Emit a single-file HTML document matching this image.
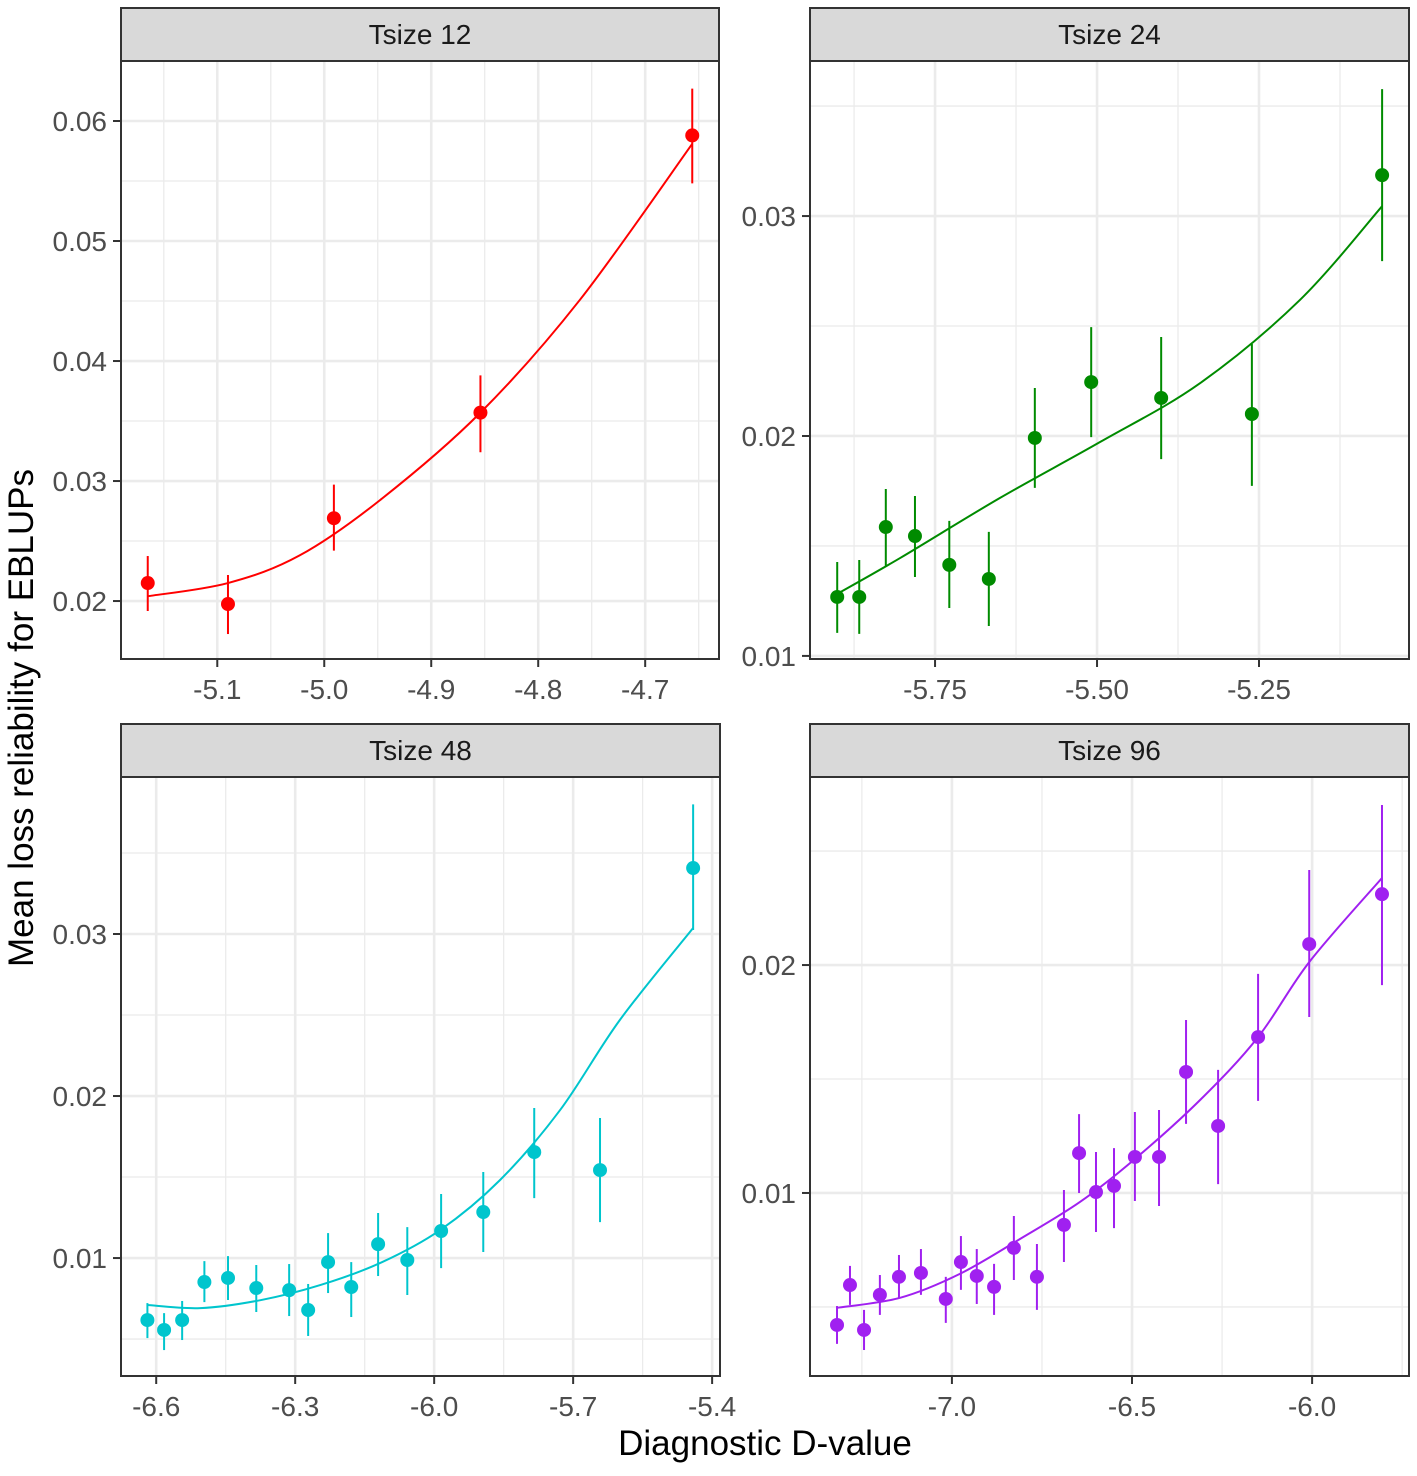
<!DOCTYPE html>
<html><head><meta charset="utf-8"><style>
body{margin:0;background:#fff;}
svg text{font-family:"Liberation Sans",sans-serif;}
</style></head><body>
<svg id="chart" width="1417" height="1471" viewBox="0 0 1417 1471" xmlns="http://www.w3.org/2000/svg">
<text transform="translate(33,718) rotate(-90)" text-anchor="middle" font-size="35" fill="#000">Mean loss reliability for EBLUPs</text>
<text x="765" y="1455" text-anchor="middle" font-size="35" fill="#000">Diagnostic D-value</text>
</svg>
<script>
// Panel titles
const panelTitles = ["Tsize 12","Tsize 24","Tsize 48","Tsize 96"];
// Tsize 12
const p1X = [-5.165,-5.090,-4.991,-4.854,-4.656];
const p1Y = [0.0215,0.01975,0.0269,0.0357,0.0588];
const p1Hi = [0.02375,0.02217,0.0297,0.0388,0.0627];
const p1Lo = [0.01917,0.01725,0.0242,0.0324,0.0548];
const p1FitX = [-5.165,-5.090,-5.023,-4.948,-4.854,-4.761,-4.656];
const p1FitY = [0.0204,0.0215,0.0238,0.0284,0.0357,0.0451,0.0581];
const p1XTicks = [-5.1,-5.0,-4.9,-4.8,-4.7];
const p1XLabels = ["-5.1","-5.0","-4.9","-4.8","-4.7"];
const p1YTicks = [0.02,0.03,0.04,0.05,0.06];
const p1YLabels = ["0.02","0.03","0.04","0.05","0.06"];
// Tsize 24
const p2X = [-5.901,-5.867,-5.826,-5.781,-5.728,-5.667,-5.596,-5.509,-5.401,-5.261,-5.060];
const p2Y = [0.01268,0.01268,0.01586,0.01545,0.01414,0.0135,0.01991,0.02245,0.02173,0.0210,0.03186];
const p2Hi = [0.01427,0.01436,0.01759,0.01727,0.01614,0.01564,0.02218,0.02495,0.0245,0.02418,0.03577];
const p2Lo = [0.01105,0.0110,0.01409,0.01359,0.01218,0.01136,0.01764,0.01995,0.01895,0.01773,0.02795];
const p2FitX = [-5.901,-5.804,-5.650,-5.495,-5.341,-5.187,-5.060];
const p2FitY = [0.01282,0.01445,0.01718,0.01973,0.0224,0.02618,0.03045];
const p2XTicks = [-5.75,-5.5,-5.25];
const p2XLabels = ["-5.75","-5.50","-5.25"];
const p2YTicks = [0.01,0.02,0.03];
const p2YLabels = ["0.01","0.02","0.03"];
// Tsize 48
const p3X = [-6.619,-6.583,-6.544,-6.496,-6.445,-6.384,-6.313,-6.272,-6.229,-6.179,-6.121,-6.058,-5.985,-5.894,-5.784,-5.642,-5.441];
const p3Y = [0.00617,0.00556,0.00617,0.00852,0.00877,0.00815,0.00802,0.00679,0.00975,0.00821,0.01086,0.00988,0.01167,0.01284,0.01654,0.01543,0.03407];
const p3Hi = [0.00722,0.0066,0.00735,0.00981,0.01012,0.00957,0.00963,0.0084,0.01154,0.00975,0.01278,0.01191,0.01395,0.01531,0.01926,0.01864,0.0380];
const p3Lo = [0.00506,0.00432,0.00494,0.00728,0.00741,0.00667,0.00642,0.00519,0.00784,0.00636,0.00889,0.00772,0.00938,0.01037,0.0137,0.01222,0.03025];
const p3FitX = [-6.619,-6.505,-6.375,-6.246,-6.117,-5.987,-5.858,-5.728,-5.599,-5.441];
const p3FitY = [0.0071,0.00691,0.0074,0.00833,0.00969,0.01173,0.01481,0.01914,0.0247,0.03037];
const p3XTicks = [-6.6,-6.3,-6.0,-5.7,-5.4];
const p3XLabels = ["-6.6","-6.3","-6.0","-5.7","-5.4"];
const p3YTicks = [0.01,0.02,0.03];
const p3YLabels = ["0.01","0.02","0.03"];
// Tsize 96
const p4X = [-7.319,-7.283,-7.244,-7.2,-7.147,-7.086,-7.017,-6.975,-6.931,-6.883,-6.828,-6.764,-6.689,-6.647,-6.6,-6.55,-6.492,-6.425,-6.35,-6.261,-6.15,-6.008,-5.806];
const p4Y = [0.00421,0.00596,0.00399,0.00553,0.00632,0.00649,0.00535,0.00697,0.00636,0.00588,0.00759,0.00632,0.0086,0.01175,0.01004,0.01031,0.01158,0.01158,0.01531,0.01294,0.01684,0.02092,0.02311];
const p4Hi = [0.00504,0.0068,0.00487,0.0064,0.00728,0.00754,0.00632,0.00811,0.00754,0.00689,0.00899,0.00776,0.01013,0.01346,0.0118,0.01197,0.01355,0.01364,0.01759,0.0154,0.01961,0.02417,0.02702];
const p4Lo = [0.00338,0.00509,0.00311,0.00465,0.0054,0.00553,0.0043,0.00575,0.00513,0.00465,0.00618,0.00487,0.00697,0.01,0.00829,0.00846,0.00965,0.00943,0.01303,0.01039,0.01404,0.01772,0.01912];
const p4FitX = [-7.319,-7.144,-6.978,-6.811,-6.644,-6.492,-6.311,-6.15,-6.008,-5.806];
const p4FitY = [0.00496,0.0054,0.00645,0.00798,0.00961,0.01149,0.01408,0.01684,0.02013,0.02382];
const p4XTicks = [-7.0,-6.5,-6.0];
const p4XLabels = ["-7.0","-6.5","-6.0"];
const p4YTicks = [0.01,0.02];
const p4YLabels = ["0.01","0.02"];

const NS="http://www.w3.org/2000/svg";
const svg=document.getElementById('chart');
function mk(tag,attrs,parent){const e=document.createElementNS(NS,tag);for(const k in attrs)e.setAttribute(k,attrs[k]);(parent||svg).appendChild(e);return e;}

const panels=[
 {L:121,R:719,T:61,B:659,st:8,xd:[-5.190,-4.631],yd:[0.01517,0.065],c:"#ff0000",X:p1X,Y:p1Y,Hi:p1Hi,Lo:p1Lo,FX:p1FitX,FY:p1FitY,xt:p1XTicks,xl:p1XLabels,yt:p1YTicks,yl:p1YLabels,xm:0.1,ym:0.01},
 {L:810,R:1409,T:61,B:659,st:8,xd:[-5.943,-5.0185],yd:[0.00986,0.03705],c:"#008b00",X:p2X,Y:p2Y,Hi:p2Hi,Lo:p2Lo,FX:p2FitX,FY:p2FitY,xt:p2XTicks,xl:p2XLabels,yt:p2YTicks,yl:p2YLabels,xm:0.25,ym:0.01},
 {L:121,R:720,T:777,B:1376,st:724,xd:[-6.676,-5.383],yd:[0.00272,0.03969],c:"#00c5cd",X:p3X,Y:p3Y,Hi:p3Hi,Lo:p3Lo,FX:p3FitX,FY:p3FitY,xt:p3XTicks,xl:p3XLabels,yt:p3YTicks,yl:p3YLabels,xm:0.3,ym:0.01},
 {L:810,R:1409,T:777,B:1376,st:724,xd:[-7.394,-5.731],yd:[0.00197,0.02825],c:"#a020f0",X:p4X,Y:p4Y,Hi:p4Hi,Lo:p4Lo,FX:p4FitX,FY:p4FitY,xt:p4XTicks,xl:p4XLabels,yt:p4YTicks,yl:p4YLabels,xm:0.5,ym:0.01}
];

function smooth(pts){
 let d='M'+pts[0][0]+','+pts[0][1];
 for(let i=0;i<pts.length-1;i++){
  const p0=pts[Math.max(0,i-1)],p1=pts[i],p2=pts[i+1],p3=pts[Math.min(pts.length-1,i+2)];
  const c1=[p1[0]+(p2[0]-p0[0])/6,p1[1]+(p2[1]-p0[1])/6];
  const c2=[p2[0]-(p3[0]-p1[0])/6,p2[1]-(p3[1]-p1[1])/6];
  d+=' C'+c1[0]+','+c1[1]+' '+c2[0]+','+c2[1]+' '+p2[0]+','+p2[1];
 }
 return d;
}

panels.forEach((p,i)=>{
 const g=mk('g',{});
 
 
 const sx=v=>p.L+(v-p.xd[0])/(p.xd[1]-p.xd[0])*(p.R-p.L);
 const sy=v=>p.B-(v-p.yd[0])/(p.yd[1]-p.yd[0])*(p.B-p.T);
 const strip=mk('rect',{x:p.L,y:p.st,width:p.R-p.L,height:p.T-p.st,fill:'#d9d9d9',stroke:'#333','stroke-width':2},g);
 
 
 const st=mk('text',{x:(p.L+p.R)/2,y:p.st+36,'text-anchor':'middle','font-size':28,fill:'#1a1a1a'},g);
 st.textContent=panelTitles[i];
 
 
 const grid=mk('g',{},g);
 
 
 const x0=p.xt[0];
 for(let k=-10;k<=20;k++){const v=x0+k*p.xm/2;const x=sx(v);if(x>p.L+1&&x<p.R-1)mk('line',{x1:x,x2:x,y1:p.T,y2:p.B,stroke:'#ebebeb','stroke-width':k%2===0?2.6:1.3},grid);}
 const y0=p.yt[0];
 for(let k=-10;k<=20;k++){const v=y0+k*p.ym/2;const y=sy(v);if(y>p.T+1&&y<p.B-1)mk('line',{x1:p.L,x2:p.R,y1:y,y2:y,stroke:'#ebebeb','stroke-width':k%2===0?2.6:1.3},grid);}
 const fit=mk('path',{d:smooth(p.FX.map((v,j)=>[sx(v),sy(p.FY[j])])),fill:'none',stroke:p.c,'stroke-width':2},g);
 
 
 p.X.forEach((v,j)=>{
  const eb=mk('line',{x1:sx(v),x2:sx(v),y1:sy(p.Hi[j]),y2:sy(p.Lo[j]),stroke:p.c,'stroke-width':2},g);
  
  
  const pt=mk('circle',{cx:sx(v),cy:sy(p.Y[j]),r:7,fill:p.c},g);
  
  
 });
 const bd=mk('rect',{x:p.L,y:p.T,width:p.R-p.L,height:p.B-p.T,fill:'none',stroke:'#333','stroke-width':2},g);
 
 
 p.xt.forEach((v,j)=>{const x=sx(v);mk('line',{x1:x,x2:x,y1:p.B,y2:p.B+8,stroke:'#333','stroke-width':2},g);
  const t=mk('text',{x:x,y:p.B+40,'text-anchor':'middle','font-size':28,fill:'#4d4d4d'},g);t.textContent=p.xl[j];
  
  });
 p.yt.forEach((v,j)=>{const y=sy(v);mk('line',{x1:p.L-8,x2:p.L,y1:y,y2:y,stroke:'#333','stroke-width':2},g);
  const t=mk('text',{x:p.L-14,y:y+10,'text-anchor':'end','font-size':28,fill:'#4d4d4d'},g);t.textContent=p.yl[j];
  
  });
});
</script>
</body></html>
